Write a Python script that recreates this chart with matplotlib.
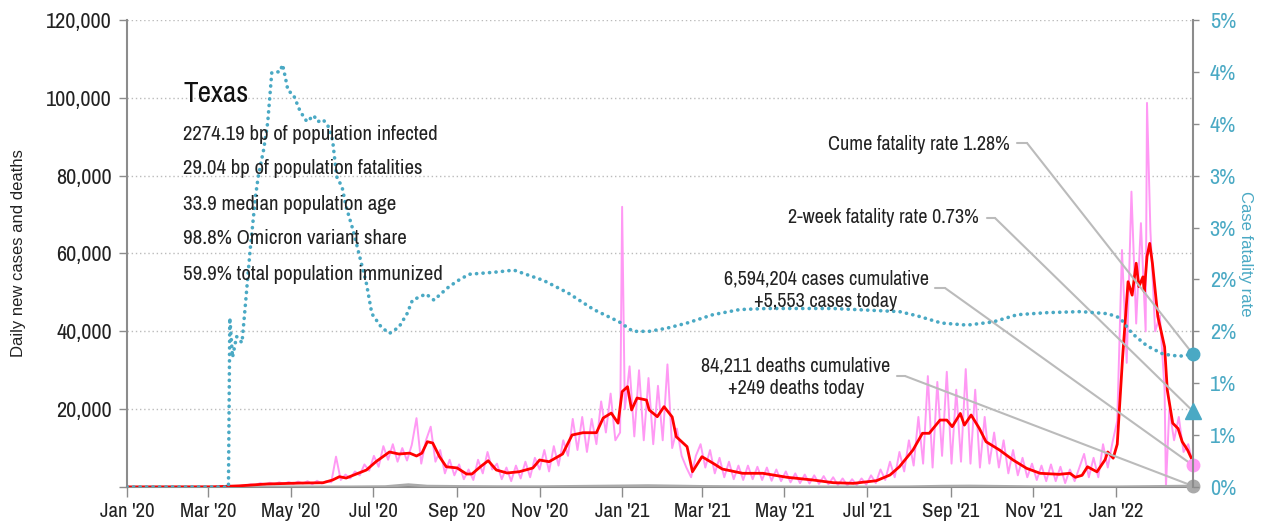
import pandas as pd
import matplotlib
matplotlib.use('Agg')
import matplotlib.pyplot as plt
import matplotlib.dates as mdates
from matplotlib import font_manager
from matplotlib.ticker import FuncFormatter

# 7-day average of new cases (red line)
avg_dates = ['2020-01-01', '2020-03-04', '2020-03-24', '2020-04-13', '2020-05-07', '2020-05-25',
             '2020-06-01', '2020-06-06', '2020-06-11', '2020-06-26', '2020-07-03', '2020-07-13',
             '2020-07-20', '2020-07-28', '2020-08-02', '2020-08-06', '2020-08-10', '2020-08-14',
             '2020-08-19', '2020-08-24', '2020-09-01', '2020-09-08', '2020-09-12', '2020-09-18',
             '2020-09-24', '2020-09-30', '2020-10-08', '2020-10-17', '2020-10-27', '2020-11-01',
             '2020-11-08', '2020-11-18', '2020-11-25', '2020-12-03', '2020-12-13', '2020-12-18',
             '2020-12-24', '2020-12-29', '2021-01-01', '2021-01-05', '2021-01-08', '2021-01-12',
             '2021-01-19', '2021-01-21', '2021-01-27', '2021-02-01', '2021-02-07', '2021-02-10',
             '2021-02-18', '2021-02-22', '2021-03-01', '2021-03-09', '2021-03-16', '2021-03-31',
             '2021-04-15', '2021-05-03', '2021-05-22', '2021-06-06', '2021-06-21', '2021-07-08',
             '2021-07-18', '2021-07-25', '2021-08-04', '2021-08-11', '2021-08-16', '2021-08-24',
             '2021-08-29', '2021-09-02', '2021-09-08', '2021-09-11', '2021-09-16', '2021-09-22',
             '2021-09-27', '2021-10-07', '2021-10-17', '2021-10-27', '2021-11-06', '2021-11-20',
             '2021-11-28', '2021-12-02', '2021-12-07', '2021-12-11', '2021-12-18', '2021-12-24',
             '2021-12-26', '2021-12-30', '2022-01-02', '2022-01-06', '2022-01-10', '2022-01-13',
             '2022-01-16', '2022-01-18', '2022-01-21', '2022-01-22', '2022-01-24', '2022-01-26',
             '2022-01-28', '2022-02-01', '2022-02-06', '2022-02-08', '2022-02-12', '2022-02-16',
             '2022-02-19', '2022-02-23', '2022-02-27']
avg_cases = [0, 30, 300, 770, 1000, 1100,
             1800, 2650, 2300, 4370, 6500, 9000,
             8480, 8700, 7970, 8700, 11640, 11300,
             7800, 5200, 4900, 3340, 3340, 5140,
             6760, 4370, 3600, 3930, 4880, 6940,
             6500, 8480, 13360, 13950, 13950, 17730,
             19000, 16400, 24500, 25770, 19800, 22870,
             22350, 19800, 18070, 20640, 18000, 12930,
             10360, 3930, 7790, 6150, 4620, 3520,
             3520, 2490, 1800, 1110, 940, 1620,
             3080, 5220, 9500, 13800, 13800, 17200,
             17200, 15500, 18900, 15900, 18500, 15080,
             11640, 9500, 6940, 4800, 3520, 3260,
             3520, 2500, 3000, 5200, 3900, 7000,
             9000, 7400, 11000, 33500, 52750, 49300,
             57500, 51500, 54000, 50200, 59200, 62600,
             57500, 43800, 36000, 24900, 16400, 15000,
             11640, 9500, 6500]

# reported daily cases (pink), one value every 3.5 days from 2020-03-01
daily_start = '2020-03-01'
daily_cases = [0, 0, 10, 30, 60, 100, 200, 300, 400,
               700, 500, 1000, 600, 1100, 700, 1200, 800,
               1300, 800, 1400, 900, 1500, 700, 1600, 900, 1500,
               1200, 7800, 1800, 3200, 2200, 4000, 3000, 5800, 4200,
               8000, 5200, 10500, 7000, 11000, 6500, 10000, 6800, 10800,
               17700, 6000, 12000, 15500, 6500, 9500, 3500, 7000,
               3000, 5800, 2000, 4500, 1800, 7000, 3500, 9000, 4500,
               6000, 2000, 5000, 1500, 5500, 2200, 6500, 2500, 7500,
               4500, 9500, 4000, 10500, 5500, 12000, 8000, 17500,
               9500, 18000, 9000, 17500, 11000, 22000, 14000, 24000, 12000,
               14000, 20000, 31000, 13000, 30000, 12000, 28000, 11000, 26000,
               12000, 31500, 10000, 15000, 8000, 5000, 2500, 8000,
               11000, 5000, 9500, 3500, 7500, 2500, 6500, 2000, 5500,
               1800, 5500, 2000, 5200, 1800, 5000, 1600, 4500,
               1500, 4000, 1200, 3500, 1000, 3200, 900, 3000, 800,
               2800, 700, 2500, 500, 2200, 400, 2000, 500, 2200,
               600, 3000, 1000, 4500, 1800, 6500, 2500, 9000, 4000,
               12000, 5500, 18000, 6000, 28500, 5000, 27000, 8000, 29600,
               6000, 25000, 6500, 30300, 6000, 25000, 5000, 18000,
               6000, 14000, 5000, 12000, 3500, 9500, 3000, 7500, 2500,
               6000, 1800, 5500, 1500, 5800, 1500, 5200, 1000,
               4500, 1500, 5000, 8500, 2500, 7500, 2500, 11000, 5000,
               11500, 17000, 60900, 31900, 75900, 42000, 67800, 40000, 66000,
               40000, 44000, 25000, 20000, 12000, 18000, 9000, 11000, 5553]
spike_dates = ['2021-01-01', '2022-01-24', '2022-02-07']
spike_cases = [72000, 98700, 0]

# reported daily deaths (grey)
death_dates = ['2020-01-01', '2020-03-20', '2020-04-15', '2020-05-15', '2020-06-15', '2020-07-10',
               '2020-07-27', '2020-08-10', '2020-09-01', '2020-10-01', '2020-11-01', '2020-12-01',
               '2021-01-01', '2021-01-20', '2021-02-10', '2021-03-01', '2021-04-01', '2021-05-01',
               '2021-06-01', '2021-07-01', '2021-08-01', '2021-08-25', '2021-09-15', '2021-10-05',
               '2021-11-01', '2021-12-01', '2022-01-01', '2022-01-25', '2022-02-15', '2022-02-27']
daily_deaths = [0, 0, 30, 35, 30, 100,
                600, 220, 150, 90, 80, 180,
                280, 350, 250, 150, 80, 50,
                30, 20, 60, 200, 250, 180,
                80, 50, 40, 120, 200, 249]

# case fatality rate in percent (teal dotted, right axis)
cfr_dates = ['2020-01-01', '2020-03-16', '2020-03-17', '2020-03-19', '2020-03-22', '2020-03-26',
             '2020-03-28', '2020-04-01', '2020-04-05', '2020-04-07', '2020-04-11', '2020-04-14',
             '2020-04-17', '2020-04-19', '2020-04-23', '2020-04-25', '2020-04-27', '2020-04-29',
             '2020-05-03', '2020-05-08', '2020-05-13', '2020-05-18', '2020-05-21', '2020-05-25',
             '2020-05-29', '2020-06-01', '2020-06-04', '2020-06-08', '2020-06-11', '2020-06-16',
             '2020-06-21', '2020-06-26', '2020-06-30', '2020-07-07', '2020-07-13', '2020-07-20',
             '2020-07-26', '2020-07-30', '2020-08-04', '2020-08-09', '2020-08-15', '2020-08-19',
             '2020-08-26', '2020-09-03', '2020-09-10', '2020-09-29', '2020-10-13', '2020-11-04',
             '2020-11-22', '2020-12-11', '2020-12-30', '2021-01-09', '2021-01-21', '2021-02-03',
             '2021-02-18', '2021-03-09', '2021-03-29', '2021-04-18', '2021-06-06', '2021-07-25',
             '2021-08-07', '2021-08-25', '2021-09-13', '2021-10-02', '2021-10-20', '2021-11-11',
             '2021-12-06', '2021-12-26', '2022-01-04', '2022-01-13', '2022-01-24', '2022-02-05',
             '2022-02-17', '2022-02-27']
cfr_pct = [0, 0, 1.63, 1.25, 1.45, 1.39,
           1.68, 2.28, 2.80, 2.99, 3.25, 3.51,
           3.99, 4.00, 4.00, 4.07, 3.95, 3.82,
           3.78, 3.62, 3.52, 3.58, 3.52, 3.54,
           3.47, 3.34, 2.99, 2.89, 2.70, 2.48,
           2.22, 1.96, 1.67, 1.54, 1.48, 1.54,
           1.67, 1.80, 1.83, 1.86, 1.80, 1.85,
           1.93, 2.00, 2.05, 2.07, 2.09, 1.99,
           1.87, 1.71, 1.59, 1.50, 1.50, 1.53,
           1.58, 1.66, 1.71, 1.72, 1.72, 1.69,
           1.65, 1.58, 1.56, 1.59, 1.66, 1.68,
           1.69, 1.67, 1.63, 1.48, 1.36, 1.28,
           1.26, 1.28]

two_week_cfr = 0.73
cfr_ticks = [0, 0.5, 1, 1.5, 2, 2.5, 3, 3.5, 4, 4.5]
cfr_tick_labels = ['0%', '1%', '1%', '2%', '2%', '3%', '3%', '4%', '4%', '5%']

state = 'Texas'
facts = ['2274.19 bp of population infected',
         '29.04 bp of population fatalities',
         '33.9 median population age',
         '98.8% Omicron variant share',
         '59.9% total population immunized']
cume_label = 'Cume fatality rate 1.28%'
two_week_label = '2-week fatality rate 0.73%'
cases_label = '6,594,204 cases cumulative\n+5,553 cases today'
deaths_label = '84,211 deaths cumulative\n+249 deaths today'

W, H = 1265, 527
PINK = '#ff99f4'
RED = '#ff0000'
TEAL = '#4aa9c4'
GREY = '#aaaaaa'
SPINE = '#8c8c8c'
LEAD = '#bbbbbb'


def pick_narrow_font():
  # look for any condensed / narrow face installed, else a plain sans
  fonts = font_manager.fontManager.ttflist
  for f in fonts:
    if ('Narrow' in f.name or 'Condensed' in f.name) and f.weight in (400, 'normal', 'regular') \
       and f.style == 'normal':
      return f.name, 'normal', 1.0
  for f in fonts:
    if f.stretch in ('condensed', 'semi-condensed') and f.style == 'normal' \
       and f.weight in (400, 'normal', 'regular'):
      return f.name, f.stretch, 1.0
  return 'Liberation Sans', 'normal', 0.86


def main():
  family, stretch, k = pick_narrow_font()
  plt.rcParams['font.family'] = [family, 'DejaVu Sans']
  plt.rcParams['font.stretch'] = stretch

  fig = plt.figure(figsize=(W / 100, H / 100), dpi=100)
  ax = fig.add_axes([127 / W, 40 / H, 1066 / W, 467 / H])
  ax2 = ax.twinx()

  avg_x = pd.to_datetime(avg_dates)
  pink = pd.concat([
    pd.Series(daily_cases, index=pd.date_range(daily_start, periods=len(daily_cases), freq='84h')),
    pd.Series(spike_cases, index=pd.to_datetime(spike_dates))]).sort_index()
  death_x = pd.to_datetime(death_dates)
  cfr_x = pd.to_datetime(cfr_dates)
  end = avg_x[-1]

  ax.plot(pink.index, pink.values, color=PINK, lw=1.4, zorder=2)
  ax.plot(death_x, daily_deaths, color=GREY, lw=2, zorder=3)
  ax.plot(avg_x, avg_cases, color=RED, lw=2, zorder=3)
  ax2.plot(cfr_x, cfr_pct, color=TEAL, lw=2.6, linestyle=(0, (0.05, 1.75)),
           dash_capstyle='round', zorder=3)

  ax.set_xlim(pd.Timestamp('2020-01-01'), end)
  ax.set_ylim(0, 120000)
  ax2.set_ylim(0, 4.5)

  # axes styling
  ax.set_yticks(range(0, 120001, 20000))
  ax.yaxis.set_major_formatter(FuncFormatter(lambda v, p: '' if v == 0 else f'{v:,.0f}'))
  ax.xaxis.set_major_locator(mdates.MonthLocator(bymonth=[1, 3, 5, 7, 9, 11]))
  ax.xaxis.set_major_formatter(mdates.DateFormatter("%b '%y"))
  ax2.set_yticks(cfr_ticks)
  ax2.set_yticklabels(cfr_tick_labels)

  ax.grid(axis='y', linestyle=(0, (1, 2)), color=LEAD, lw=1)
  ax.set_axisbelow(True)
  for s in ['top', 'right']:
    ax.spines[s].set_visible(False)
  for s in ['top', 'left', 'bottom']:
    ax2.spines[s].set_visible(False)
  for s in [ax.spines['left'], ax.spines['bottom'], ax2.spines['right']]:
    s.set_color(SPINE)
    s.set_linewidth(1.5)

  ax.tick_params(axis='y', length=6, width=1, color=SPINE, labelsize=16 * k, labelcolor='#222222', pad=5)
  ax.tick_params(axis='x', length=7, width=1, color=SPINE, labelsize=15 * k, labelcolor='#222222', pad=4)
  ax2.tick_params(axis='y', length=4, width=1, color=SPINE, labelsize=16 * k, labelcolor=TEAL, pad=8)

  # axis titles are set in a wider face than the rest
  ax.set_ylabel('Daily new cases and deaths', fontsize=12, color='#222222',
                family=['Liberation Sans', 'DejaVu Sans'], va='center')
  ax.yaxis.set_label_coords(-0.102, 0.5)
  ax2.set_ylabel('Case fatality rate', fontsize=12, color=TEAL, rotation=270, va='center',
                 family=['Liberation Sans', 'DejaVu Sans'])
  ax2.yaxis.set_label_coords(1.049, 0.5)

  # info block
  fig.text(183 / W, 1 - 94 / H, state, fontsize=21 * k, va='center', ha='left', color='#111111')
  for i, line in enumerate(facts):
    fig.text(183 / W, 1 - (134 + 35 * i) / H, line, fontsize=15 * k, va='center', ha='left', color='#222222')

  # callouts at the right edge
  fs = 14.5 * k
  fig.text(1010 / W, 1 - 144 / H, cume_label, fontsize=fs, ha='right', va='center', color='#222222')
  fig.text(979 / W, 1 - 218 / H, two_week_label, fontsize=fs, ha='right', va='center', color='#222222')
  fig.text(826 / W, 1 - 290 / H, cases_label, fontsize=fs, ha='center', va='center',
           multialignment='center', linespacing=1.25, color='#222222')
  fig.text(796 / W, 1 - 377 / H, deaths_label, fontsize=fs, ha='center', va='center',
           multialignment='center', linespacing=1.25, color='#222222')

  leaders = [((1017, 143), (1027, 143), ax2.transData, cfr_pct[-1]),
             ((987, 218), (995, 218), ax2.transData, two_week_cfr),
             ((935, 288), (945, 288), ax.transData, daily_cases[-1]),
             ((897, 376), (905, 376), ax.transData, daily_deaths[-1])]
  for start, elbow, tr, val in leaders:
    a = (start[0], H - start[1])
    b = (elbow[0], H - elbow[1])
    ax.annotate('', xy=b, xycoords='figure pixels', xytext=a, textcoords='figure pixels',
                arrowprops=dict(arrowstyle='-', color=LEAD, lw=1.5, shrinkA=0, shrinkB=0),
                annotation_clip=False, zorder=4)
    ax.annotate('', xy=(mdates.date2num(end), val), xycoords=tr, xytext=b, textcoords='figure pixels',
                arrowprops=dict(arrowstyle='-', color=LEAD, lw=1.5, shrinkA=0, shrinkB=0),
                annotation_clip=False, zorder=4)

  ax.plot([end], [daily_cases[-1]], 'o', color=PINK, ms=9, clip_on=False, zorder=6)
  ax.plot([end], [daily_deaths[-1]], 'o', color=GREY, ms=9, clip_on=False, zorder=6)
  ax2.plot([end], [cfr_pct[-1]], 'o', color=TEAL, ms=9, clip_on=False, zorder=6)
  ax2.plot([end], [two_week_cfr], '^', color=TEAL, ms=11, clip_on=False, zorder=6)

  plt.savefig('out.png', dpi=100)


if __name__ == "__main__":
  main()
